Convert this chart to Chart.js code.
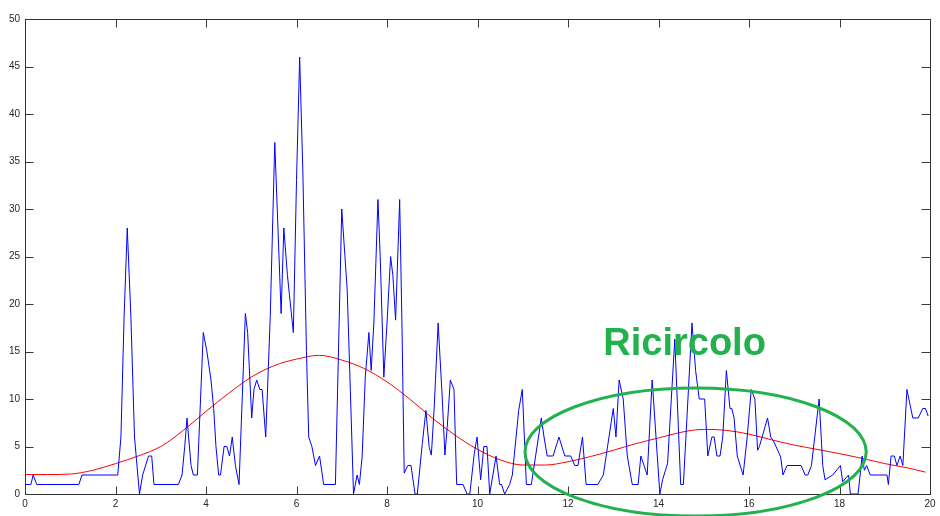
<!DOCTYPE html>
<html>
<head>
<meta charset="utf-8">
<script src="https://cdn.jsdelivr.net/npm/chart.js@4.4.1/dist/chart.umd.min.js"></script>
<style>
  html, body { margin: 0; padding: 0; background: #fff; }
  canvas { display: block; }
</style>
</head>
<body>
<canvas id="chart" width="940" height="516"></canvas>
<script>
// axis ticks
const xTickValues = [0, 2, 4, 6, 8, 10, 12, 14, 16, 18, 20];
const yTickValues = [0, 5, 10, 15, 20, 25, 30, 35, 40, 45, 50];

// blue signal (breakpoints)
const blueX = [0, 0.13, 0.18, 0.26, 1.19, 1.26, 2.05, 2.12, 2.19, 2.26, 2.34, 2.42, 2.53, 2.6, 2.73, 2.8, 2.85,
  3.39, 3.47, 3.53, 3.58, 3.67, 3.72, 3.81, 3.94, 4.02, 4.11, 4.17, 4.22, 4.28, 4.32, 4.4, 4.46, 4.52, 4.58, 4.65, 4.73,
  4.87, 4.92, 5.01, 5.06, 5.12, 5.19, 5.24, 5.32, 5.42, 5.52, 5.66, 5.72, 5.8, 5.93, 6.0, 6.07, 6.14, 6.22, 6.27, 6.34,
  6.42, 6.51, 6.6, 6.86, 7.0, 7.12, 7.19, 7.26, 7.34, 7.39, 7.45, 7.52, 7.6, 7.65, 7.71, 7.8, 7.85, 7.93, 8.0, 8.08,
  8.13, 8.19, 8.28, 8.33, 8.38, 8.46, 8.53, 8.62, 8.67, 8.78, 8.86, 8.93, 8.98, 9.04, 9.13, 9.22, 9.28, 9.33, 9.4,
  9.48, 9.54, 9.68, 9.77, 9.83, 9.93, 9.99, 10.07, 10.14, 10.21, 10.27, 10.41, 10.49, 10.53, 10.6, 10.71, 10.77,
  10.91, 10.99, 11.08, 11.19, 11.41, 11.47, 11.54, 11.67, 11.8, 11.93, 12.06, 12.15, 12.22, 12.32, 12.4, 12.66,
  12.78, 13.0, 13.06, 13.13, 13.22, 13.31, 13.42, 13.55, 13.61, 13.68, 13.75, 13.86, 14.03, 14.09, 14.2, 14.36,
  14.49, 14.55, 14.74, 14.82, 14.9, 15.02, 15.09, 15.18, 15.23, 15.29, 15.36, 15.42, 15.5, 15.58, 15.62, 15.67,
  15.74, 15.87, 15.96, 16.05, 16.13, 16.19, 16.23, 16.41, 16.48, 16.55, 16.7, 16.75, 16.84, 17.15, 17.24, 17.3,
  17.38, 17.55, 17.63, 17.68, 17.85, 18.02, 18.07, 18.2, 18.24, 18.41, 18.5, 18.55, 18.6, 18.68, 19.05, 19.08,
  19.14, 19.21, 19.27, 19.34, 19.4, 19.49, 19.62, 19.74, 19.84, 19.9, 19.96];
const blueY = [1, 1, 2, 1, 1, 2, 2, 6, 18.7, 28, 18.7, 6, 0, 2, 4, 4, 1,
  1, 2, 5, 8, 3, 2, 2, 17, 15, 12, 9, 5, 2, 2, 5, 5, 4, 6, 3, 1,
  19, 17, 8, 11, 12, 11, 11, 6, 18.7, 37, 19, 28, 23, 17, 33, 46, 34, 15, 6, 5,
  3, 4, 1, 1, 30, 21.5, 10.9, 0, 2, 1, 3.9, 12.3, 17, 13, 18, 31, 25, 12.3, 18, 25,
  23, 18.3, 31, 18, 2.2, 3, 3, 0, 0, 5.3, 8.8, 5, 4.1, 8.8, 18, 10.2, 4.1, 7, 12,
  11, 1, 1, 0, 0, 4.3, 6, 1.5, 5, 5, 0, 4, 1, 1, 0, 1, 2,
  8.8, 11, 1, 1, 8, 6, 4, 4, 6, 4, 4, 3, 3, 6, 1, 1,
  2, 9, 6, 12, 10, 4, 1, 1, 4, 3, 2, 12, 0, 1.5, 3.2, 16.3,
  1, 1, 18, 13, 10, 10, 4, 6, 6, 4, 4, 6, 13, 9, 9, 8,
  4, 2, 6, 11, 10, 4.6, 5, 8, 6, 5.5, 3.9, 2, 3, 3, 2, 2,
  3, 10, 3, 1.5, 2, 3, 1.3, 2, 0, 0, 4, 2.5, 3, 2, 2, 1,
  4, 4, 3, 4, 3, 11, 8, 8, 9, 9, 8.2];

// red smooth fit
const redX = [0, 0.5, 1, 1.5, 2, 2.5, 3, 3.5, 4, 4.5, 5, 5.5, 6, 6.5, 7, 7.5, 8, 8.5, 9, 9.5, 10,
  10.5, 11, 11.5, 12, 12.5, 13, 13.5, 14, 14.5, 15, 15.5, 16, 16.5, 17, 17.5, 18, 18.5, 19, 19.5, 19.9];
const redY = [2.05, 2.05, 2.1, 2.5, 3.2, 4.0, 5.0, 6.7, 8.7, 10.6, 12.3, 13.5, 14.2, 14.6, 14.1, 13.2, 11.8, 10.0, 8.0, 6.2, 4.7,
  3.6, 3.05, 3.05, 3.4, 3.95, 4.6, 5.3, 5.9, 6.5, 6.8, 6.7, 6.3, 5.7, 5.15, 4.7, 4.25, 3.75, 3.2, 2.75, 2.3];

// green annotation (data units)
const noteText = 'Ricircolo';
const noteAt = [12.78, 14.63];
const ringCenter = [14.82, 4.42];
const ringRadius = [3.77, 6.74];

const paintGreen = '#22b14c';

const zip = (xs, ys) => xs.map((x, i) => ({ x: x, y: ys[i] }));

// MATLAB style box with inward ticks on all four sides
const frame = {
  id: 'frame',
  afterDraw(chart) {
    const ctx = chart.ctx;
    const a = chart.chartArea;
    const xs = chart.scales.x;
    const ys = chart.scales.y;
    const L = Math.round(a.left) + 0.5, R = Math.round(a.right) + 0.5;
    const T = Math.round(a.top) + 0.5, B = Math.round(a.bottom) + 0.5;
    ctx.save();
    ctx.lineWidth = 1;
    ctx.strokeStyle = '#3a3a3a';
    ctx.beginPath();
    xTickValues.forEach(v => {
      const p = Math.round(xs.getPixelForValue(v)) + 0.5;
      ctx.moveTo(p, B); ctx.lineTo(p, B - 8);
      ctx.moveTo(p, T); ctx.lineTo(p, T + 8);
    });
    yTickValues.forEach(v => {
      const p = Math.round(ys.getPixelForValue(v)) + 0.5;
      ctx.moveTo(L, p); ctx.lineTo(L + 8, p);
      ctx.moveTo(R, p); ctx.lineTo(R - 9, p);
    });
    ctx.stroke();
    ctx.strokeStyle = '#333';
    ctx.strokeRect(L, T, R - L, B - T);

    // annotation
    const cx = xs.getPixelForValue(ringCenter[0]);
    const cy = ys.getPixelForValue(ringCenter[1]);
    const rx = xs.getPixelForValue(ringCenter[0] + ringRadius[0]) - cx;
    const ry = cy - ys.getPixelForValue(ringCenter[1] + ringRadius[1]);
    ctx.strokeStyle = paintGreen;
    ctx.lineWidth = 3;
    ctx.beginPath();
    ctx.ellipse(cx, cy, rx, ry, 0, 0, Math.PI * 2);
    ctx.stroke();

    ctx.fillStyle = paintGreen;
    ctx.font = 'bold 38px "Liberation Sans", Arial, sans-serif';
    ctx.textBaseline = 'alphabetic';
    ctx.fillText(noteText, xs.getPixelForValue(noteAt[0]), ys.getPixelForValue(noteAt[1]));
    ctx.restore();
  }
};

new Chart(document.getElementById('chart'), {
  type: 'line',
  data: {
    datasets: [
      {
        label: 'signal',
        data: zip(blueX, blueY),
        borderColor: '#0000ff',
        borderWidth: 1,
        pointRadius: 0,
        tension: 0
      },
      {
        label: 'fit',
        data: zip(redX, redY),
        borderColor: '#ff0000',
        borderWidth: 1,
        pointRadius: 0,
        cubicInterpolationMode: 'monotone'
      }
    ]
  },
  options: {
    responsive: false,
    animation: false,
    devicePixelRatio: 1,
    layout: { padding: { top: 19, right: 10, left: 0, bottom: 0 } },
    plugins: { legend: { display: false }, tooltip: { enabled: false } },
    scales: {
      x: {
        type: 'linear',
        min: 0,
        max: 20,
        afterBuildTicks: s => { s.ticks = xTickValues.map(v => ({ value: v })); },
        afterFit: s => { s.height = 22; },
        grid: { display: false, drawTicks: false },
        border: { display: false },
        ticks: {
          autoSkip: false,
          maxRotation: 0,
          padding: 4,
          color: '#262626',
          font: { family: '"Liberation Sans", Arial, sans-serif', size: 10 }
        }
      },
      y: {
        type: 'linear',
        min: 0,
        max: 50,
        afterBuildTicks: s => { s.ticks = yTickValues.map(v => ({ value: v })); },
        afterFit: s => { s.width = 25; },
        grid: { display: false, drawTicks: false },
        border: { display: false },
        ticks: {
          padding: 5,
          color: '#262626',
          font: { family: '"Liberation Sans", Arial, sans-serif', size: 10 }
        }
      }
    }
  },
  plugins: [frame]
});
</script>
</body>
</html>
